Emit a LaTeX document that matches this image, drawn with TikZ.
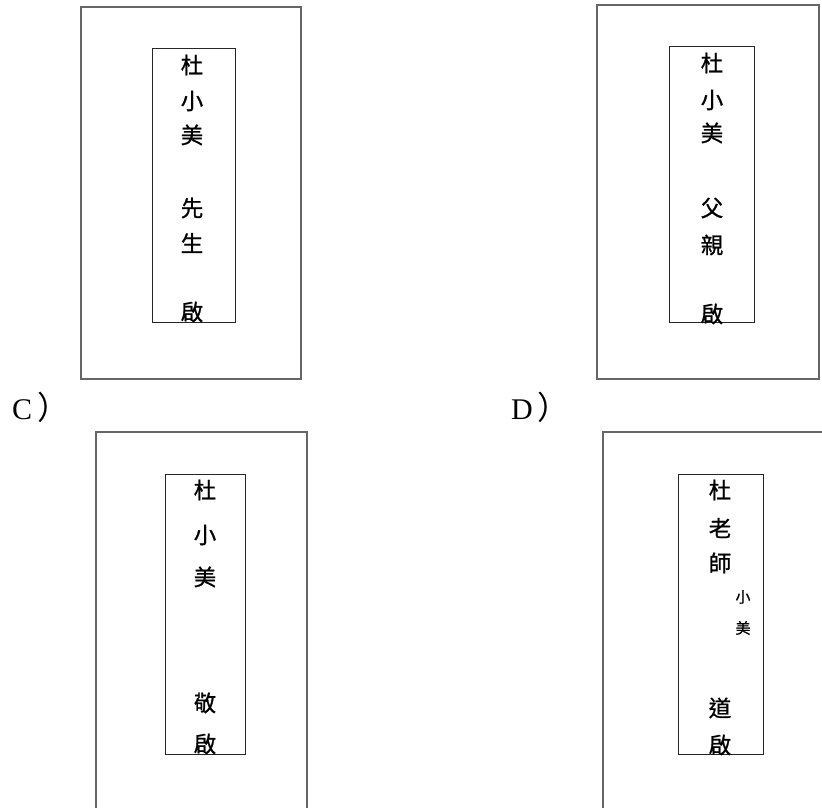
\documentclass[tikz,border=0pt]{standalone}
\usepackage{fontspec}
\setmainfont{Liberation Serif}
\newfontfamily\cjk[FakeBold=0.9]{Noto Sans CJK TC}
\newfontfamily\cjkpar{Noto Sans CJK TC}
\tikzset{
  sobre/.style={draw=black!60, line width=1.6pt},
  carta/.style={draw=black!85, line width=1pt},
  zi/.style={inner sep=0pt, font=\cjk\fontsize{22.5}{22.5}\selectfont},
  xiaozi/.style={inner sep=0pt, font=\cjk\fontsize{15}{15}\selectfont},
  opcion/.style={inner sep=0pt, anchor=west, font=\fontsize{30}{30}\selectfont}
}
\begin{document}
\begin{tikzpicture}[x=1pt,y=1pt]
    % Marco
    \useasboundingbox (0,0) rectangle (822,807);
    \clip (0,0) rectangle (822,807);

    % Sobre A
    \draw[sobre] (81,428) rectangle (301,800);
    \draw[carta] (152,484) rectangle (235,758);
    \node[zi] (a1) at (192,742) {杜};
    \node[zi] (a2) at (192,706) {小};
    \node[zi] (a3) at (192,672) {美};
    \node[zi] (a4) at (192,599) {先};
    \node[zi] (a5) at (192,564) {生};
    \node[zi] (a6) at (192,495) {啟};

    % Sobre B
    \draw[sobre] (597,428) rectangle (819,802);
    \draw[carta] (669,484) rectangle (754,760);
    \node[zi] (b1) at (712,744) {杜};
    \node[zi] (b2) at (712,707) {小};
    \node[zi] (b3) at (712,674) {美};
    \node[zi] (b4) at (712,599) {父};
    \node[zi] (b5) at (712,562) {親};
    \node[zi] (b6) at (712,493) {啟};

    % Etiquetas
    \node[opcion] (c) at (12,400) {C\kern5pt{\cjkpar\fontsize{32}{32}\selectfont ）}};
    \node[opcion] (d) at (511,400) {D\kern5pt{\cjkpar\fontsize{32}{32}\selectfont ）}};

    % Sobre C
    \draw[sobre] (96,-10) rectangle (307,375);
    \draw[carta] (165,53) rectangle (245,333);
    \node[zi] (c1) at (205,317) {杜};
    \node[zi] (c2) at (205,272) {小};
    \node[zi] (c3) at (205,230) {美};
    \node[zi] (c4) at (205,104) {敬};
    \node[zi] (c5) at (205,63) {啟};

    % Sobre D
    \draw[sobre] (603,-10) rectangle (840,375);
    \draw[carta] (678,53) rectangle (763,333);
    \node[zi] (d1) at (720,317) {杜};
    \node[zi] (d2) at (720,279) {老};
    \node[zi] (d3) at (720,244) {師};
    \node[xiaozi] (d4) at (743,210) {小};
    \node[xiaozi] (d5) at (743,179) {美};
    \node[zi] (d6) at (720,99) {道};
    \node[zi] (d7) at (720,62) {啟};
\end{tikzpicture}
\end{document}
